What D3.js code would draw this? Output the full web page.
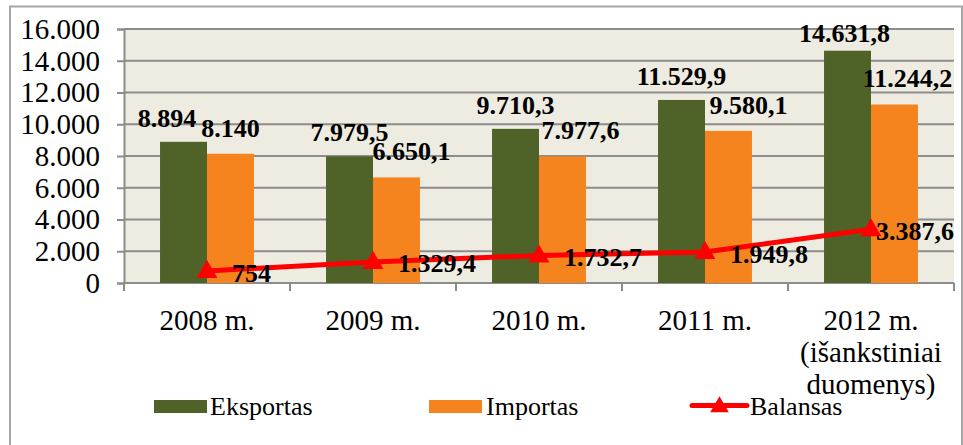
<!DOCTYPE html>
<html><head><meta charset="utf-8">
<script src="https://cdn.jsdelivr.net/npm/d3@7"></script>
<style>
html,body{margin:0;padding:0;background:#fff;}
svg{display:block;}
svg text{font-family:"Liberation Serif","Times New Roman",Tinos,"DejaVu Serif",serif !important;}
</style></head>
<body><svg id="c" width="963" height="445"></svg>
<script>
const categories = ["2008 m.", "2009 m.", "2010 m.", "2011 m.", "2012 m.\n(išankstiniai\nduomenys)"];
const eksportas = [8894, 7979.5, 9710.3, 11529.9, 14631.8];
const importas = [8140, 6650.1, 7977.6, 9580.1, 11244.2];
const balansas = [754, 1329.4, 1732.7, 1949.8, 3387.6];
const seriesNames = ["Eksportas", "Importas", "Balansas"];
const yTicks = [0, 2000, 4000, 6000, 8000, 10000, 12000, 14000, 16000];

const FONT = "Liberation Serif, Times New Roman, serif";
const colors = {Eksportas: "#4F6228", Importas: "#F5841F", Balansas: "#FF0000"};
const svg = d3.select("#c");
const loc = d3.formatLocale({decimal: ",", thousands: ".", grouping: [3], currency: ["", ""]});
const fmtInt = loc.format(",.0f"), fmt1 = loc.format(",.1f");
const fmtVal = v => Number.isInteger(v) ? fmtInt(v) : fmt1(v);

const L = 124, R = 954, T = 29, B = 283;
const x = d3.scaleBand().domain(categories).range([L, R]).padding(0);
const bw = x.bandwidth();
const x1 = d3.scaleBand().domain(["Eksportas", "Importas"]).range([bw * 0.217, bw * 0.783]).padding(0);
const y = d3.scaleLinear().domain([0, 16000]).range([B, T]);

// outer border
svg.append("rect").attr("x", 10).attr("y", 6.5).attr("width", 952).attr("height", 460)
  .attr("fill", "#fff").attr("stroke", "#A6A6A6").attr("stroke-width", 2);

// plot background
svg.append("rect").attr("x", L).attr("y", T).attr("width", R - L).attr("height", B - T).attr("fill", "#EEEBE0");

// gridlines
svg.append("g").selectAll("line").data(yTicks).join("line")
  .attr("x1", L).attr("x2", R).attr("y1", d => y(d)).attr("y2", d => y(d))
  .attr("stroke", "#8C8C8C").attr("stroke-width", 2);

// y axis
const yAxis = svg.append("g").attr("transform", `translate(${L},0)`)
  .call(d3.axisLeft(y).tickValues(yTicks).tickSize(7).tickPadding(17).tickFormat(fmtInt));
yAxis.attr("font-family", FONT);
yAxis.select(".domain").attr("stroke", "#8C8C8C").attr("stroke-width", 2);
yAxis.selectAll(".tick line").attr("stroke", "#8C8C8C").attr("stroke-width", 2);
yAxis.selectAll("text").attr("font-size", 29).attr("fill", "#000").attr("font-family", FONT);

// x axis line and ticks
svg.append("line").attr("x1", L).attr("x2", R).attr("y1", B).attr("y2", B)
  .attr("stroke", "#8C8C8C").attr("stroke-width", 2);
const bounds = categories.map(c => x(c)).concat([R]);
svg.append("g").selectAll("line").data(bounds).join("line")
  .attr("x1", d => d).attr("x2", d => d).attr("y1", B).attr("y2", B + 8)
  .attr("stroke", "#8C8C8C").attr("stroke-width", 2);

// category labels
const cl = svg.append("g").selectAll("text").data(categories).join("text")
  .attr("x", d => x(d) + bw / 2).attr("y", 330).attr("text-anchor", "middle")
  .attr("font-size", 29).attr("fill", "#000").attr("font-family", FONT);
cl.each(function(d) {
  const lines = d.split("\n");
  d3.select(this).selectAll("tspan").data(lines).join("tspan")
    .attr("x", x(d) + bw / 2).attr("dy", (l, i) => i === 0 ? 0 : 32).text(l => l);
});

// bars
const barData = [];
categories.forEach((c, i) => {
  barData.push({c, s: "Eksportas", v: eksportas[i], i});
  barData.push({c, s: "Importas", v: importas[i], i});
});
svg.append("g").selectAll("rect").data(barData).join("rect")
  .attr("x", d => x(d.c) + x1(d.s)).attr("width", x1.bandwidth())
  .attr("y", d => y(d.v)).attr("height", d => B - y(d.v))
  .attr("fill", d => colors[d.s]);

// line
const pts = categories.map((c, i) => ({c, v: balansas[i], i}));
const cx = d => x(d.c) + bw / 2;
svg.append("path").datum(pts)
  .attr("d", d3.line().x(cx).y(d => y(d.v)))
  .attr("fill", "none").attr("stroke", colors.Balansas).attr("stroke-width", 5);
const tri = d3.symbol().type(d3.symbolTriangle).size(190);
svg.append("g").selectAll("path").data(pts).join("path")
  .attr("d", tri).attr("transform", d => `translate(${cx(d)},${y(d.v) + 1})`)
  .attr("fill", colors.Balansas);

// bar value labels (with Excel-like nudges)
const nudgeE = [-16.5, 0, 0, 0, -3], nudgeI = [0, 15, 18, 20, 13];
svg.append("g").selectAll("text").data(barData).join("text")
  .attr("x", d => x(d.c) + x1(d.s) + x1.bandwidth() / 2 + (d.s === "Eksportas" ? nudgeE[d.i] : nudgeI[d.i]))
  .attr("y", d => y(d.v) - (d.s === "Eksportas" ? (d.i === 4 ? 9 : 15) : 17))
  .attr("text-anchor", "middle").attr("font-size", 26).attr("font-weight", "bold").attr("fill", "#000")
  .attr("font-family", FONT)
  .text(d => fmtVal(d.v));

// line value labels
svg.append("g").selectAll("text").data(pts).join("text")
  .attr("x", d => cx(d) + (d.i === 4 ? 5 : 25)).attr("y", d => y(d.v) + 10.5)
  .attr("font-size", 26).attr("font-weight", "bold").attr("fill", "#000")
  .attr("font-family", FONT)
  .text(d => fmtVal(d.v));

// legend
const lg = svg.append("g");
const legendItems = [
  {s: seriesNames[0], x0: 154, tx: 210},
  {s: seriesNames[1], x0: 429, tx: 486},
  {s: seriesNames[2], x0: 692, tx: 750}
];
legendItems.forEach(it => {
  if (it.s === "Balansas") {
    lg.append("line").attr("x1", it.x0).attr("x2", it.x0 + 55).attr("y1", 405.5).attr("y2", 405.5)
      .attr("stroke", colors[it.s]).attr("stroke-width", 5).attr("stroke-linecap", "round");
    lg.append("path").attr("d", d3.symbol().type(d3.symbolTriangle).size(150))
      .attr("transform", `translate(${it.x0 + 27.5},${407})`).attr("fill", colors[it.s]);
  } else {
    lg.append("rect").attr("x", it.x0).attr("y", 400).attr("width", 53).attr("height", 13)
      .attr("fill", colors[it.s]);
  }
  lg.append("text").attr("x", it.tx).attr("y", 415).attr("font-size", 26).attr("fill", "#000")
    .attr("font-family", FONT).text(it.s);
});
</script></body></html>
